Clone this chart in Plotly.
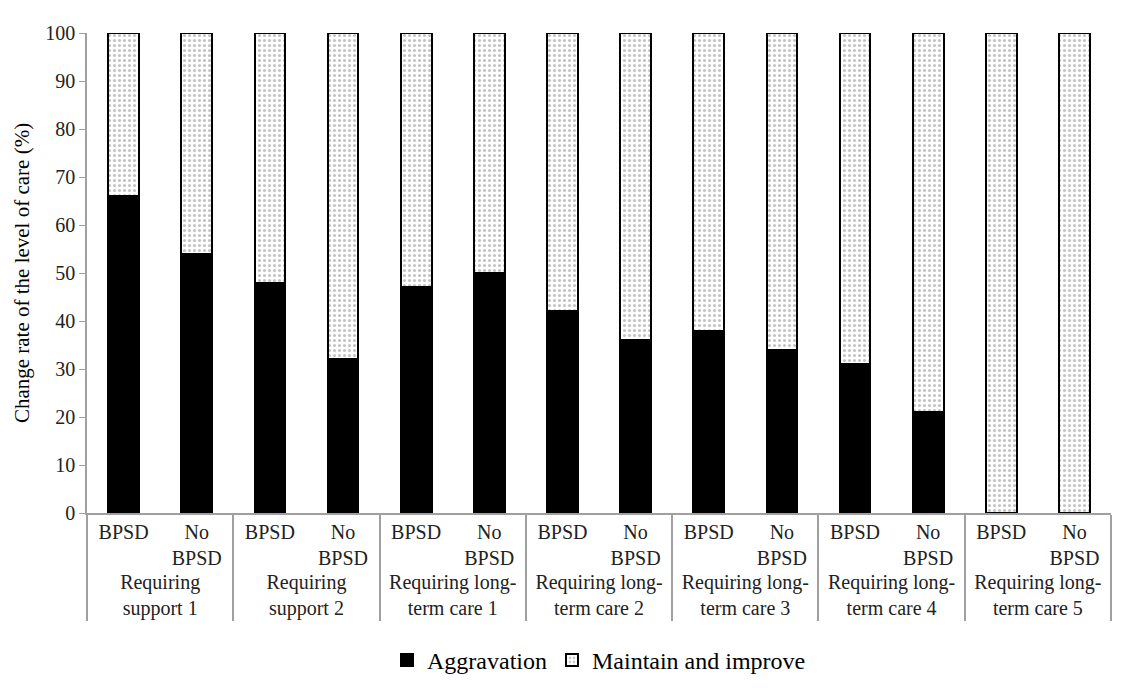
import plotly.graph_objects as go

groups = ["Requiring<br>support 1", "Requiring<br>support 2", "Requiring long-<br>term care 1",
          "Requiring long-<br>term care 2", "Requiring long-<br>term care 3",
          "Requiring long-<br>term care 4", "Requiring long-<br>term care 5"]
subcats = ["BPSD", "No<br>BPSD"]
aggravation = [66, 54, 48, 32, 47, 50, 42, 36, 38, 34, 31, 21, 0, 0]
maintain = [100 - v for v in aggravation]

xg = [g for g in groups for _ in subcats]
xs = [s for _ in groups for s in subcats]

FAM = "Liberation Serif, DejaVu Serif, serif"

fig = go.Figure()
fig.add_trace(go.Bar(
    x=[xg, xs], y=aggravation, name="Aggravation",
    marker=dict(color="black", line=dict(color="black", width=2)),
))
fig.add_trace(go.Bar(
    x=[xg, xs], y=maintain, name="Maintain and improve",
    marker=dict(color="white", line=dict(color="black", width=2),
                pattern=dict(shape=".", fgcolor="#888888", bgcolor="white", size=5, solidity=0.3)),
))

fig.update_layout(
    barmode="stack", bargap=0.58,
    width=1125, height=695,
    margin=dict(l=87, r=14, t=33, b=175),
    plot_bgcolor="white", paper_bgcolor="white",
    font=dict(family=FAM, size=20, color="black"),
    legend=dict(orientation="h", x=0.5, xanchor="center", y=-0.26, yanchor="top",
                font=dict(family=FAM, size=24, color="black"), traceorder="normal"),
    showlegend=True,
)
fig.update_xaxes(
    type="multicategory", showline=True, linecolor="#a0a0a0", linewidth=1.5,
    showdividers=True, dividercolor="#a0a0a0", dividerwidth=1.5,
    ticks="", tickfont=dict(family=FAM, size=20, color="#222222"), automargin=False,
)
fig.update_yaxes(
    range=[0, 100], dtick=10, showgrid=False, showline=True, linecolor="#a0a0a0", linewidth=1.5,
    ticks="outside", ticklen=6, tickcolor="#a0a0a0", zeroline=False, automargin=False,
    title=dict(text="Change rate of the level of care (%)", font=dict(family=FAM, size=21, color="black"),
               standoff=10),
    tickfont=dict(family=FAM, size=20, color="#222222"),
)

fig.write_html("out.html", config={"displayModeBar": False},
               post_script="document.body.style.margin='0';")
